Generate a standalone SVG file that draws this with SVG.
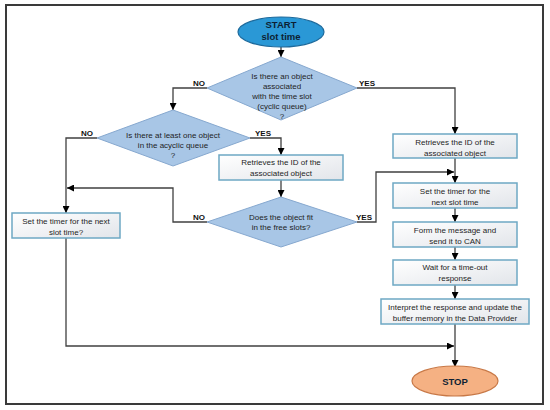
<svg xmlns="http://www.w3.org/2000/svg" width="550" height="410" viewBox="0 0 550 410">
<defs>
<linearGradient id="boxg" x1="0" y1="0" x2="1" y2="1">
<stop offset="0" stop-color="#ffffff"/>
<stop offset="1" stop-color="#e2e5ea"/>
</linearGradient>
<marker id="arr" viewBox="0 0 10 10" refX="10" refY="5" markerWidth="7" markerHeight="7" markerUnits="userSpaceOnUse" orient="auto">
<path d="M0,0 L10,5 L0,10 z" fill="#000"/>
</marker>
<style>
text{font-family:"Liberation Sans",Arial,sans-serif;font-size:8px;fill:#1e1e1e;text-anchor:middle}
.lbl{font-weight:bold;font-size:8px;fill:#111}
.term{font-weight:bold;font-size:9.5px;fill:#0d1f33}
.box{fill:url(#boxg);stroke:#6ea8c4;stroke-width:1.5}
.dia{fill:#a8c6e6;stroke:#86a8cf;stroke-width:1}
.con{fill:none;stroke:#404040;stroke-width:1.3}
.arrow{marker-end:url(#arr)}
</style>
</defs>
<rect x="6" y="5" width="537" height="399" fill="#fff" stroke="#3a3a3a" stroke-width="2"/>

<g id="connectors">
<path class="con arrow" d="M281,47 L281,57"/>
<path class="con arrow" d="M207,88 L173,88 L173,110"/>
<path class="con arrow" d="M357,88 L455,88 L455,134"/>
<path class="con arrow" d="M97,138 L66,138 L66,213"/>
<path class="con arrow" d="M250,138 L281,138 L281,155"/>
<path class="con arrow" d="M281,180 L281,197"/>
<path class="con arrow" d="M207,222 L173,222 L173,188 L67,188"/>
<path class="con arrow" d="M357,222 L376,222 L376,172 L454,172"/>
<path class="con arrow" d="M455,158 L455,183"/>
<path class="con arrow" d="M455,208 L455,222"/>
<path class="con arrow" d="M455,247 L455,260"/>
<path class="con arrow" d="M455,285 L455,299"/>
<path class="con arrow" d="M455,324 L455,367"/>
<path class="con arrow" d="M66,238 L66,346 L454,346"/>
<text class="lbl" x="199" y="86">NO</text>
<text class="lbl" x="367" y="86">YES</text>
<text class="lbl" x="87" y="136">NO</text>
<text class="lbl" x="263" y="136">YES</text>
<text class="lbl" x="199" y="220">NO</text>
<text class="lbl" x="364" y="220">YES</text>
</g>

<g id="start">
<ellipse cx="281" cy="32" rx="43" ry="15" fill="#2a98d6" stroke="#1d6a9c" stroke-width="1.2"/>
<text class="term" x="281" y="28">START</text>
<text class="term" x="281" y="40">slot time</text>
</g>

<g id="d1">
<polygon class="dia" points="281,57 357,88 281,120 207,88"/>
<text x="282" y="79">Is there an object</text>
<text x="282" y="89">associated</text>
<text x="282" y="99">with the time slot</text>
<text x="282" y="109">(cyclic queue)</text>
<text x="282" y="119">?</text>
</g>

<g id="d2">
<polygon class="dia" points="173,110 250,138 173,166 97,138"/>
<text x="173" y="138">Is there at least one object</text>
<text x="173" y="148">in the acyclic queue</text>
<text x="173" y="158">?</text>
</g>

<g id="b_mid">
<rect class="box" x="219" y="155" width="124" height="25"/>
<text x="281" y="165">Retrieves the ID of the</text>
<text x="281" y="175.5">associated object</text>
</g>

<g id="d3">
<polygon class="dia" points="281,197 357,222 281,247 207,222"/>
<text x="281" y="220">Does the object fit</text>
<text x="281" y="230">in the free slots?</text>
</g>

<g id="b_left">
<rect class="box" x="12" y="213" width="108" height="25"/>
<text x="66" y="224">Set the timer for the next</text>
<text x="66" y="235">slot time?</text>
</g>

<g id="b_r1">
<rect class="box" x="393" y="134" width="124" height="24"/>
<text x="455" y="145">Retrieves the ID of the</text>
<text x="455" y="156">associated object</text>
</g>

<g id="b_r2">
<rect class="box" x="393" y="183" width="124" height="25"/>
<text x="455" y="194">Set the timer for the</text>
<text x="455" y="205">next slot time</text>
</g>

<g id="b_r3">
<rect class="box" x="393" y="222" width="124" height="25"/>
<text x="455" y="233">Form the message and</text>
<text x="455" y="243.5">send it to CAN</text>
</g>

<g id="b_r4">
<rect class="box" x="393" y="260" width="124" height="25"/>
<text x="455" y="270">Wait for a time-out</text>
<text x="455" y="281">response</text>
</g>

<g id="b_r5">
<rect class="box" x="381" y="299" width="148" height="25"/>
<text x="455" y="310">Interpret the response and update the</text>
<text x="455" y="321">buffer memory in the Data Provider</text>
</g>

<g id="stop">
<ellipse cx="455" cy="381" rx="43" ry="15" fill="#f5b183" stroke="#c87846" stroke-width="1.2"/>
<text class="term" x="455" y="385">STOP</text>
</g>
</svg>
